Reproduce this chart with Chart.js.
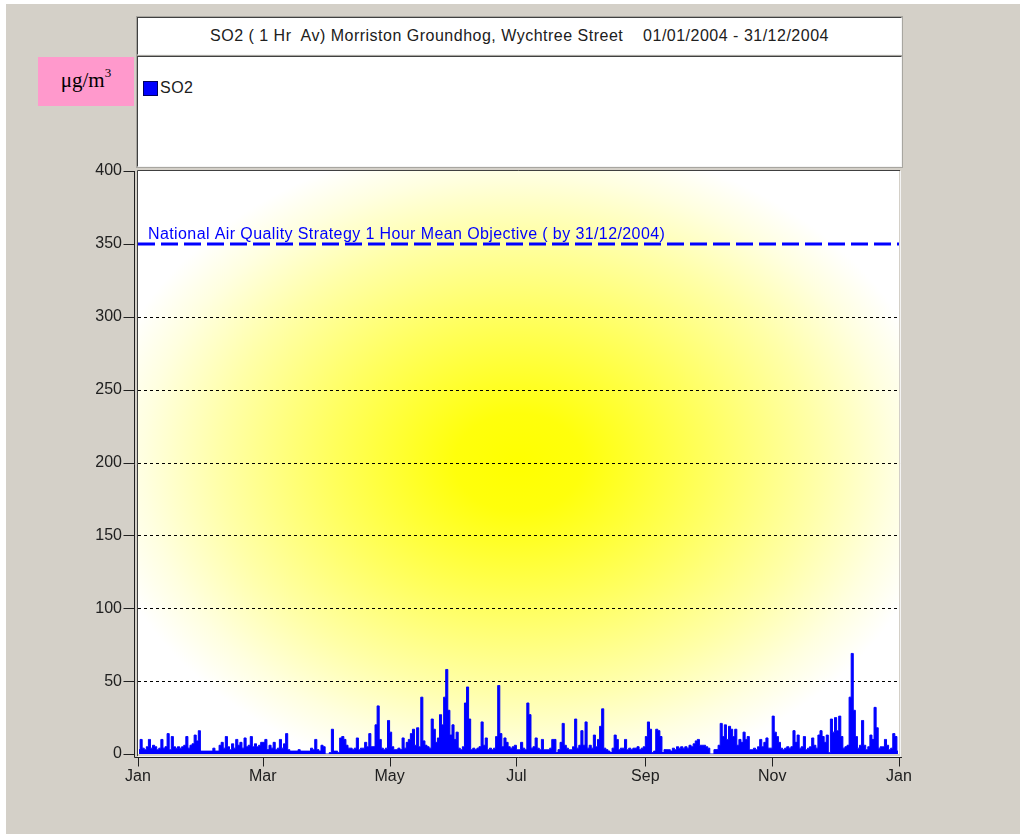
<!DOCTYPE html>
<html>
<head>
<meta charset="utf-8">
<title>SO2 Morriston Groundhog 2004</title>
<script src="https://cdn.jsdelivr.net/npm/chart.js@4.4.1/dist/chart.umd.min.js"></script>
<style>
  html, body { margin: 0; padding: 0; }
  body { width: 1020px; height: 834px; background: #fff; position: relative; overflow: hidden;
         font-family: "Liberation Sans", Arial, sans-serif; }
  #frame { position: absolute; left: 6px; top: 4px; right: 0; bottom: 0; background: #d4d0c8; }
  .box { position: absolute; background: #fff; box-sizing: border-box;
         border-top: 1px solid #404040; border-left: 1px solid #404040;
         border-right: 1px solid #f4f4f4; border-bottom: 1px solid #f4f4f4;
         outline: 1px solid #a8a6a0; }
  #titleBox { left: 137px; top: 17px; width: 765px; height: 38px; text-align: center;
              font-size: 16px; letter-spacing: 0.5px; line-height: 36px; color: #202020; white-space: pre; }
  #legendBox { left: 137px; top: 56px; width: 765px; height: 111px; }
  #legendSwatch { position: absolute; left: 5px; top: 24px; width: 13px; height: 13px;
                  background: #0000ff; border: 1px solid #000060; }
  #legendText { position: absolute; left: 22px; top: 22px; font-size: 16px; letter-spacing: 0.5px; color: #202020; }
  #unitBox { position: absolute; left: 38px; top: 57px; width: 96px; height: 49px; background: #ff99cc;
             font-family: "Liberation Serif", "Times New Roman", serif; font-size: 21px; color: #000;
             text-align: center; line-height: 46px; }
  #unitBox sup { font-size: 13px; vertical-align: 10px; line-height: 0; }
  #chartCanvas { position: absolute; left: 0; top: 0; }
</style>
</head>
<body>
<div id="frame"></div>
<div id="titleBox" class="box">SO2 ( 1 Hr  Av) Morriston Groundhog, Wychtree Street    01/01/2004 - 31/12/2004</div>
<div id="legendBox" class="box"><div id="legendSwatch"></div><div id="legendText">SO2</div></div>
<div id="unitBox">μg/m<sup>3</sup></div>
<canvas id="chartCanvas" width="1020" height="834"></canvas>
<script>
// -------------------- Data (daily peaks, 2004) --------------------
const tickDays = [0, 60, 121, 182, 244, 305, 366];
const tickNames = ["Jan", "Mar", "May", "Jul", "Sep", "Nov", "Jan"];
const yTicks = [0, 50, 100, 150, 200, 250, 300, 350, 400];
const gridValues = [50, 100, 150, 200, 250, 300];
const objectiveValue = 350;
const objectiveLabel = "National Air Quality Strategy 1 Hour Mean Objective ( by 31/12/2004)";

const so2Jan = [3, 10, 4, 3, 5, 10, 4, 6, 5, 3, 4, 10, 4, 5, 14, 3, 12, 5, 4, 5, 4, 5, 6, 12, 4, 6, 7, 13, 9, 16, 2];
const so2Feb = [2, 2, 2, 2, 2, 4, 2, 2, 6, 8, 4, 12, 5, 3, 7, 4, 10, 6, 8, 4, 11, 5, 6, 12, 5, 7, 5, 6, 8];
const so2Mar = [8, 10, 3, 6, 4, 8, 3, 4, 10, 4, 7, 14, 3, 2, 2, 2, 2, 3, 2, 2, 2, 2, 2, 4, 3, 10, 3, 2, 6, 5, 0];
const so2Apr = [0, 1, 17, 2, 2, 1, 11, 12, 10, 6, 4, 4, 3, 4, 11, 3, 4, 4, 8, 5, 14, 5, 5, 20, 33, 10, 4, 3, 4, 23];
const so2May = [15, 5, 3, 3, 4, 3, 11, 4, 8, 10, 14, 17, 6, 18, 5, 39, 9, 6, 5, 4, 24, 17, 8, 11, 27, 20, 39, 58, 30, 13, 20];
const so2Jun = [10, 15, 4, 3, 5, 35, 46, 24, 3, 4, 3, 4, 5, 22, 6, 11, 3, 4, 3, 4, 12, 47, 14, 5, 11, 8, 5, 4, 5, 6];
const so2Jul = [3, 3, 8, 4, 3, 35, 27, 4, 5, 11, 4, 3, 10, 3, 3, 3, 4, 10, 10, 1, 3, 8, 21, 6, 4, 3, 3, 5, 24, 4, 6];
const so2Aug = [16, 6, 22, 4, 6, 4, 13, 5, 10, 19, 31, 4, 3, 2, 1, 4, 13, 10, 3, 4, 4, 10, 3, 4, 3, 4, 4, 5, 3, 4, 5];
const so2Sep = [12, 22, 17, 1, 2, 17, 16, 12, 1, 3, 3, 3, 2, 4, 3, 5, 4, 5, 4, 5, 4, 6, 5, 7, 9, 10, 6, 6, 6, 5];
const so2Oct = [4, 0, 0, 3, 3, 6, 21, 12, 20, 10, 19, 17, 12, 17, 6, 10, 8, 15, 10, 12, 3, 3, 4, 3, 5, 10, 5, 8, 11, 4, 4];
const so2Nov = [26, 15, 12, 8, 4, 3, 4, 5, 4, 5, 16, 8, 13, 4, 5, 12, 3, 4, 5, 11, 6, 4, 13, 16, 12, 8, 13, 1, 24, 15];
const so2Dec = [25, 16, 26, 12, 4, 5, 6, 39, 69, 30, 12, 4, 6, 23, 6, 3, 5, 13, 10, 32, 18, 4, 5, 5, 10, 6, 3, 4, 14, 12, 2];

const so2Daily = [].concat(so2Jan, so2Feb, so2Mar, so2Apr, so2May, so2Jun,
                           so2Jul, so2Aug, so2Sep, so2Oct, so2Nov, so2Dec);
const so2Points = so2Daily.map((v, i) => ({ x: i + 0.5, y: v }));

const FONT = "'Liberation Sans', Arial, sans-serif";

// -------------------- Plot decorations --------------------
const plotDecor = {
  id: "plotDecor",
  beforeDraw(chart) {
    const { ctx, chartArea: a } = chart;
    const cx = (a.left + a.right) / 2;
    const cy = (a.top + a.bottom) / 2;
    const rx = (a.right - a.left) / 2;
    const ry = (a.bottom - a.top) / 2;

    // yellow centre fading out to white at the box edges
    ctx.save();
    ctx.beginPath();
    ctx.rect(a.left, a.top, a.right - a.left, a.bottom - a.top);
    ctx.clip();
    ctx.translate(cx, cy);
    ctx.scale(rx, ry);
    const g = ctx.createRadialGradient(0, 0, 0, 0, 0, 1.12);
    g.addColorStop(0, "#ffff00");
    g.addColorStop(0.15, "#ffff0c");
    g.addColorStop(0.45, "#ffff60");
    g.addColorStop(0.7, "#ffffa8");
    g.addColorStop(0.88, "#ffffe0");
    g.addColorStop(1, "#ffffff");
    ctx.fillStyle = g;
    ctx.fillRect(-1, -1, 2, 2);
    ctx.restore();
  },
  beforeDatasetsDraw(chart) {
    const { ctx, chartArea: a, scales } = chart;
    ctx.save();
    ctx.strokeStyle = "#000";
    ctx.lineWidth = 1;
    ctx.setLineDash([3, 3]);
    gridValues.forEach((v) => {
      const py = Math.round(scales.y.getPixelForValue(v)) + 0.5;
      ctx.beginPath();
      ctx.moveTo(a.left, py);
      ctx.lineTo(a.right, py);
      ctx.stroke();
    });
    ctx.restore();
  },
  afterDraw(chart) {
    const { ctx, chartArea: a, scales } = chart;
    ctx.save();

    // plot box bevel
    ctx.lineWidth = 1;
    ctx.strokeStyle = "#404040";
    ctx.beginPath();
    ctx.moveTo(a.left - 0.5, a.bottom + 2);
    ctx.lineTo(a.left - 0.5, a.top - 0.5);
    ctx.lineTo(a.right + 1, a.top - 0.5);
    ctx.stroke();
    ctx.strokeStyle = "#f4f4f4";
    ctx.beginPath();
    ctx.moveTo(a.right + 1.5, a.top);
    ctx.lineTo(a.right + 1.5, a.bottom + 2.5);
    ctx.lineTo(a.left, a.bottom + 2.5);
    ctx.stroke();

    // axes
    const axisX = a.left - 3.5;
    const axisY = a.bottom + 3.5;
    ctx.strokeStyle = "#202020";
    ctx.beginPath();
    ctx.moveTo(axisX, a.top);
    ctx.lineTo(axisX, axisY);
    ctx.lineTo(a.right + 3, axisY);
    ctx.stroke();
    yTicks.forEach((v) => {
      const py = Math.round(scales.y.getPixelForValue(v)) + 0.5;
      ctx.beginPath();
      ctx.moveTo(axisX - 11, py);
      ctx.lineTo(axisX, py);
      ctx.stroke();
    });
    tickDays.forEach((d) => {
      const px = Math.round(scales.x.getPixelForValue(d)) + 0.5;
      ctx.beginPath();
      ctx.moveTo(px, axisY);
      ctx.lineTo(px, axisY + 9);
      ctx.stroke();
    });

    // objective label
    ctx.fillStyle = "#0000ff";
    ctx.font = "16px " + FONT;
    ctx.letterSpacing = "0.4px";
    ctx.textBaseline = "alphabetic";
    ctx.fillText(objectiveLabel, a.left + 10, scales.y.getPixelForValue(objectiveValue) - 5);
    ctx.restore();
  }
};

// -------------------- Chart --------------------
const ctx = document.getElementById("chartCanvas").getContext("2d");

new Chart(ctx, {
  type: "line",
  data: {
    datasets: [
      {
        label: "SO2",
        data: so2Points,
        borderColor: "#0000ff",
        backgroundColor: "#0000ff",
        borderWidth: 1,
        pointRadius: 0,
        stepped: "middle",
        fill: "origin"
      },
      {
        label: "Objective",
        data: [{ x: tickDays[0], y: objectiveValue }, { x: tickDays[tickDays.length - 1], y: objectiveValue }],
        borderColor: "#0000ff",
        borderWidth: 3,
        borderDash: [17, 6],
        pointRadius: 0,
        fill: false
      }
    ]
  },
  options: {
    responsive: false,
    animation: false,
    layout: { padding: { left: 78, top: 171, right: 121, bottom: 40 } },
    plugins: {
      legend: { display: false },
      tooltip: { enabled: false }
    },
    scales: {
      x: {
        type: "linear",
        min: tickDays[0],
        max: tickDays[tickDays.length - 1],
        afterBuildTicks: (s) => { s.ticks = tickDays.map((v) => ({ value: v })); },
        afterFit: (s) => { s.height = 40; },
        grid: { display: false, drawTicks: false },
        border: { display: false },
        ticks: {
          autoSkip: false,
          maxRotation: 0,
          padding: 13,
          color: "#202020",
          font: { family: FONT, size: 16 },
          callback: (v, i) => tickNames[i]
        }
      },
      y: {
        min: yTicks[0],
        max: yTicks[yTicks.length - 1],
        afterBuildTicks: (s) => { s.ticks = yTicks.map((v) => ({ value: v })); },
        afterFit: (s) => { s.width = 60; },
        grid: { display: false, drawTicks: false },
        border: { display: false },
        ticks: {
          padding: 16,
          color: "#202020",
          font: { family: FONT, size: 16 }
        }
      }
    }
  },
  plugins: [plotDecor]
});
</script>
</body>
</html>
